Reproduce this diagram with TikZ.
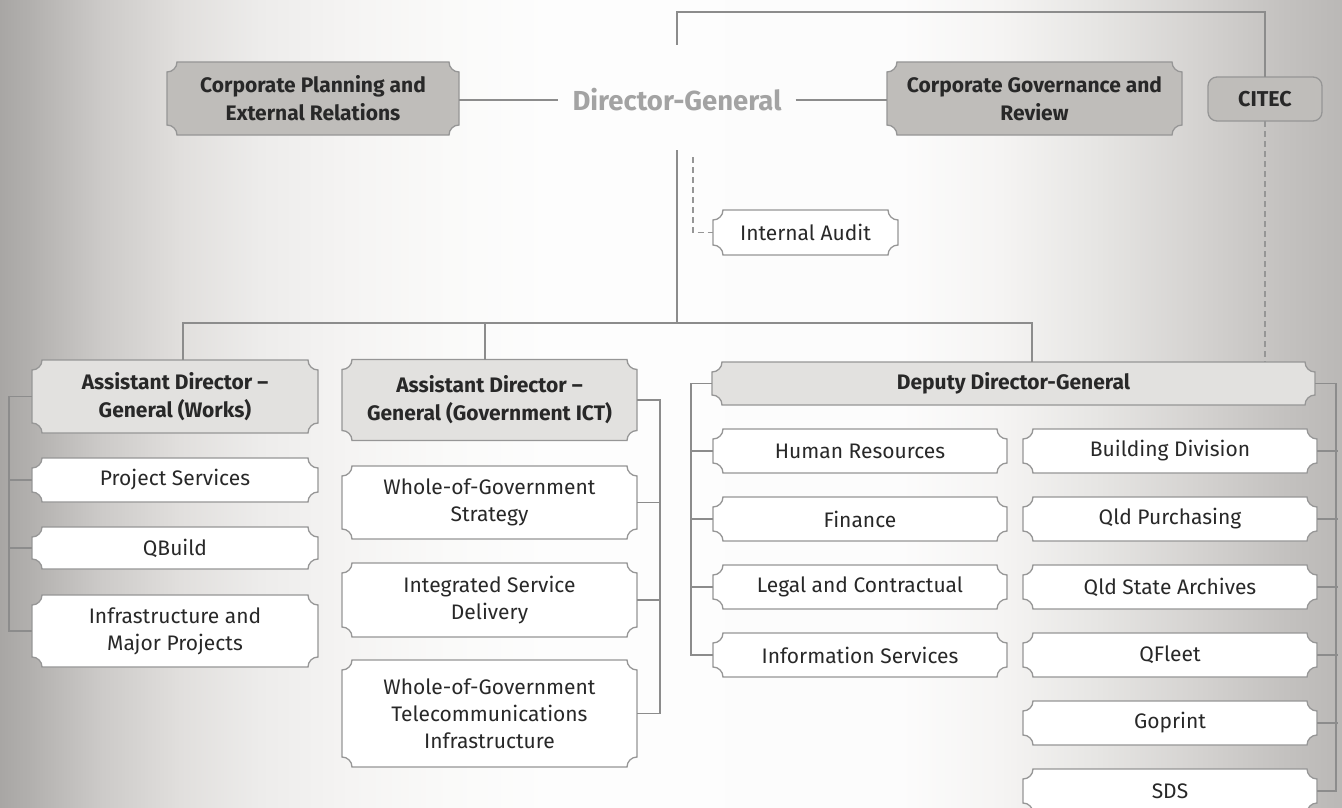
\documentclass[tikz,border=0pt]{standalone}
\usepackage{fontspec}
\setmainfont{Fira Sans}

% colours
\definecolor{boxgray}{RGB}{191,189,186}
\definecolor{boxlight}{RGB}{226,225,223}
\definecolor{edgegray}{RGB}{150,150,150}
\definecolor{wiregray}{RGB}{140,140,140}
\definecolor{inkdark}{RGB}{40,40,40}
\definecolor{titlegray}{RGB}{163,163,163}
% backdrop tones, left to right
\definecolor{g0}{RGB}{168,166,164}
\definecolor{g1}{RGB}{178,176,174}
\definecolor{g2}{RGB}{204,202,200}
\definecolor{g3}{RGB}{225,223,221}
\definecolor{g4}{RGB}{237,236,235}
\definecolor{g5}{RGB}{245,244,243}
\definecolor{g6}{RGB}{250,250,249}
\definecolor{g7}{RGB}{253,253,253}
\definecolor{g8}{RGB}{252,252,252}
\definecolor{g9}{RGB}{245,244,243}
\definecolor{g10}{RGB}{230,229,227}
\definecolor{g11}{RGB}{212,210,208}
\definecolor{g12}{RGB}{196,194,192}
\definecolor{g13}{RGB}{186,184,182}

\pgfdeclarelayer{bg}
\pgfdeclarelayer{plaques}
\pgfsetlayers{bg,plaques,main}

\tikzset{
  wh/.style 2 args={minimum width=#1pt, minimum height=#2pt},
  plaque/.style={inner sep=0pt, outer sep=0pt, align=center, text=inkdark,
    font=\fontsize{21}{27}\selectfont},
  headplaque/.style={plaque, font=\fontsize{21}{28}\selectfont\bfseries},
  plaque line/.style={draw=edgegray, line width=1.3pt},
  wire/.style={draw=wiregray, line width=1.2pt},
  dashwire/.style={draw=edgegray, line width=1.2pt, dash pattern=on 6pt off 4pt},
}

% ticket-shaped outline with concave corners around a named node
\newcommand\plaqueshape[2]{%
  \path[plaque line, fill=#2]
    ([xshift=10pt]#1.north west) -- ([xshift=-10pt]#1.north east)
    arc[start angle=180, end angle=270, radius=10pt]
    -- ([yshift=10pt]#1.south east)
    arc[start angle=90, end angle=180, radius=10pt]
    -- ([xshift=10pt]#1.south west)
    arc[start angle=0, end angle=90, radius=10pt]
    -- ([yshift=-10pt]#1.north west)
    arc[start angle=270, end angle=360, radius=10pt]
    -- cycle;}

\begin{document}
\begin{tikzpicture}[x=1pt, y=-1pt]
\useasboundingbox (0,0) rectangle (1342,808);

% backdrop
\begin{pgfonlayer}{bg}
\foreach \xa/\xb/\ca/\cb in {0/30/g0/g1, 30/100/g1/g2, 100/180/g2/g3, 180/260/g3/g4,
    260/350/g4/g5, 350/450/g5/g6, 450/550/g6/g7, 550/900/g7/g8, 900/1000/g8/g9,
    1000/1100/g9/g10, 1100/1200/g10/g11, 1200/1280/g11/g12, 1280/1342/g12/g13}
  \fill[left color=\ca, right color=\cb] (\xa,0) rectangle (\xb+0.6,808);
\end{pgfonlayer}

% top level
\node[headplaque, wh={292}{73}] (cpl) at (313,98.5) {Corporate Planning and\\External Relations};
\node[headplaque, wh={295}{73}] (cgr) at (1034.5,98.5) {Corporate Governance and\\Review};
\node[draw=edgegray, line width=1.3pt, fill=boxgray, rounded corners=9pt, wh={114}{44},
      inner sep=0pt, outer sep=0pt, text=inkdark, font=\fontsize{21.5}{24}\selectfont\bfseries]
      (citec) at (1265,99) {CITEC};
\node[text=titlegray, font=\fontsize{27.5}{30}\selectfont\bfseries, inner xsep=14pt] (dg) at (677,100) {Director-General};
\node[plaque, wh={185}{45}] (audit) at (805.5,232.5) {Internal Audit};

% second level
\node[headplaque, wh={286}{73}] (works) at (175,396.5) {Assistant Director –\\General (Works)};
\node[headplaque, wh={295}{81}] (ict) at (489.5,400) {Assistant Director –\\General (Government ICT)};
\node[headplaque, wh={603}{43}] (deputy) at (1013.5,383.5) {Deputy Director-General};

% works units
\node[plaque, wh={286}{44}] (ps) at (175,480) {Project Services};
\node[plaque, wh={286}{42}] (qb) at (175,548) {QBuild};
\node[plaque, wh={286}{72}] (infra) at (175,631) {Infrastructure and\\Major Projects};

% government ICT units
\node[plaque, wh={295}{73}] (wog) at (489.5,502.5) {Whole-of-Government\\Strategy};
\node[plaque, wh={295}{74}] (isd) at (489.5,600) {Integrated Service\\Delivery};
\node[plaque, wh={295}{107}] (tel) at (489.5,713.5) {Whole-of-Government\\Telecommunications\\Infrastructure};

% deputy units
\node[plaque, wh={294}{44}] (hr) at (860,451) {Human Resources};
\node[plaque, wh={294}{44}] (fin) at (860,519) {Finance};
\node[plaque, wh={294}{44}] (legal) at (860,587) {Legal and Contractual};
\node[plaque, wh={294}{44}] (info) at (860,655) {Information Services};
\node[plaque, wh={294}{44}] (bld) at (1170,451) {Building Division};
\node[plaque, wh={294}{44}] (pur) at (1170,519) {Qld Purchasing};
\node[plaque, wh={294}{44}] (arch) at (1170,587) {Qld State Archives};
\node[plaque, wh={294}{44}] (qfl) at (1170,655) {QFleet};
\node[plaque, wh={294}{44}] (gop) at (1170,723) {Goprint};
\node[plaque, wh={294}{44}] (sds) at (1170,791) {SDS};

% outlines
\begin{pgfonlayer}{plaques}
\foreach \n/\c in {cpl/boxgray, cgr/boxgray, works/boxlight, ict/boxlight, deputy/boxlight,
    audit/white, ps/white, qb/white, infra/white, wog/white, isd/white, tel/white,
    hr/white, fin/white, legal/white, info/white, bld/white, pur/white, arch/white,
    qfl/white, gop/white, sds/white}
  {\plaqueshape{\n}{\c}}
\end{pgfonlayer}

% connectors
\coordinate (dgtop) at (677,45);
\coordinate (topbend) at (677,12);
\coordinate (dgbot) at (677,150);
\coordinate (bar) at (677,323);
\coordinate (auditbend) at (693,157);

\draw[wire] (cpl.east |- dg.west) -- (dg.west);
\draw[wire] (dg.east) -- (cgr.west |- dg.east);
\draw[wire] (dgtop) -- (topbend) -| (citec.north);
\draw[dashwire] (citec.south) -- (citec.south |- deputy.north);
\draw[dashwire] (auditbend) |- (audit.west);

\draw[wire] (dgbot) -- (bar);
\draw[wire] (bar) -| ([xshift=8pt]works.north);
\draw[wire] (bar) -| ([xshift=-4.5pt]ict.north);
\draw[wire] (bar) -| ([xshift=18.5pt]deputy.north);

\draw[wire] (works.west) -- ++(-23,0) |- (infra.west);
\foreach \n in {ps, qb} \draw[wire] (\n.west) -- ++(-23,0);

\draw[wire] (ict.east) -- ++(23,0) |- (tel.east);
\foreach \n in {wog, isd} \draw[wire] (\n.east) -- ++(23,0);

\draw[wire] (deputy.west) -- ++(-21,0) |- (info.west);
\foreach \n in {hr, fin, legal} \draw[wire] (\n.west) -- ++(-21,0);

\draw[wire] (deputy.east) -- ++(21,0) |- (sds.east);
\foreach \n in {bld, pur, arch, qfl, gop} \draw[wire] (\n.east) -- ++(21,0);
\end{tikzpicture}
\end{document}
